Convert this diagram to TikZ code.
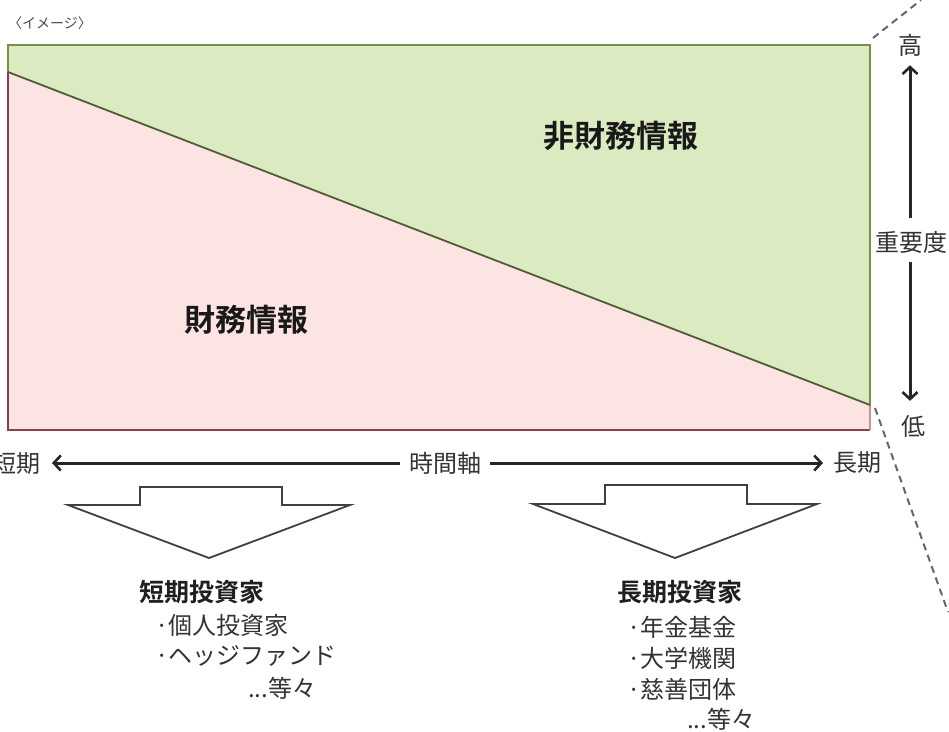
\documentclass[tikz,border=0pt]{standalone}
\usepackage{fontspec}
\newfontfamily\jp{Noto Sans CJK JP}[BoldFont={Noto Sans CJK JP Bold}]
\usetikzlibrary{arrows.meta}
\definecolor{gfill}{RGB}{219,234,192}
\definecolor{pfill}{RGB}{252,228,226}
\definecolor{gline}{RGB}{118,146,72}
\definecolor{rline}{RGB}{140,62,78}
\definecolor{pline}{RGB}{214,140,150}
\definecolor{dline}{RGB}{80,92,56}
\begin{document}
\begin{tikzpicture}[x=1pt,y=-1pt,
  lbl/.style={font=\jp\fontsize{24}{26}\selectfont, inner sep=0pt, text=black!80},
  small/.style={font=\jp\fontsize{14}{16}\selectfont, inner sep=0pt, text=black!70},
  big/.style={font=\jp\bfseries\fontsize{31}{33}\selectfont, inner sep=0pt, text=black!90},
  head/.style={font=\jp\bfseries\fontsize{25}{27}\selectfont, inner sep=0pt, anchor=west, text=black!88},
  item/.style={font=\jp\fontsize{24}{26}\selectfont, inner sep=0pt, anchor=west, text=black!80},
  axis/.style={line width=3pt, draw=black!85, -{Straight Barb[length=7pt,width=15pt,line width=2.6pt]}},
  block/.style={draw=black!75, line width=1.8pt, fill=white, line join=miter},
  guide/.style={dash pattern=on 7pt off 5pt, line width=2pt, draw=black!60}]
\useasboundingbox (0,0) rectangle (949,731);

% corners of the chart
\coordinate (tl) at (8,45);
\coordinate (tr) at (870,45);
\coordinate (br) at (870,430);
\coordinate (bl) at (8,430);
\coordinate (dl) at (8,72);
\coordinate (dr) at (870,405);

% fills
\fill[gfill] (dl) -- (tl) -- (tr) -- (dr) -- cycle;
\fill[pfill] (dl) -- (dr) -- (br) -- (bl) -- cycle;
% borders
\draw[gline, line width=2.4pt] (dl) -- (tl) -- (tr) -- (dr);
\draw[rline, line width=2.8pt] (dl) -- (bl) -- (br);
\draw[pline, line width=2.4pt] (dr) -- (br);
\draw[dline, line width=1.8pt] (dl) -- (dr);

% dashed guides
\coordinate (gtop) at (921,0);
\coordinate (gbot) at (948,612);
\draw[guide] ([shift={(3,-7)}]tr) -- (gtop);
\draw[guide] ([shift={(5,3)}]dr) -- (gbot);

% title
\node[small, anchor=west] (img) at (8,23) {〈イメージ〉};

% area labels
\node[big] (nonfin) at (621,136) {非財務情報};
\node[big] (fin) at (246,320) {財務情報};

% importance axis
\node[lbl] (koh) at (910,45) {高};
\node[lbl] (juyo) at (911,242) {重要度};
\node[lbl] (tei) at (913,426) {低};
\draw[axis] (juyo.north -| koh.south) ++(0,-13) -- ([yshift=-9pt]koh.south);
\draw[axis] ([yshift=-9pt]juyo.south -| koh.south) -- ([yshift=14pt]tei.north -| koh.south);

% time axis
\node[lbl, anchor=east] (tanki) at (41,463) {短期};
\node[lbl] (jikan) at (445,463) {時間軸};
\node[lbl, anchor=west] (choki) at (833,463) {長期};
\draw[axis, shorten <=9pt, shorten >=11pt] (jikan.west) -- (tanki.east);
\draw[axis, shorten <=9pt, shorten >=10pt] (jikan.east) -- (choki.west);

% block arrows
\draw[block] (140,487) -- (282,487) -- (282,505) -- (350,505) -- (209,558) -- (68,505) -- (140,505) -- cycle;
\draw[block] (605,485) -- (747,485) -- (747,504) -- (817,504) -- (675,558) -- (533,504) -- (605,504) -- cycle;

% short-term investors
\node[head] (sh) at (139,592) {短期投資家};
\node[item] (s1) at (155,625) {·個人投資家};
\node[item] (s2) at (155,656) {·ヘッジファンド};
\node[item] (s3) at (248,688) {...等々};

% long-term investors
\node[head] (lh) at (617,592) {長期投資家};
\node[item] (l1) at (627,627) {·年金基金};
\node[item] (l2) at (627,658) {·大学機関};
\node[item] (l3) at (627,689) {·慈善団体};
\node[item] (l4) at (687,719) {...等々};
\end{tikzpicture}
\end{document}
